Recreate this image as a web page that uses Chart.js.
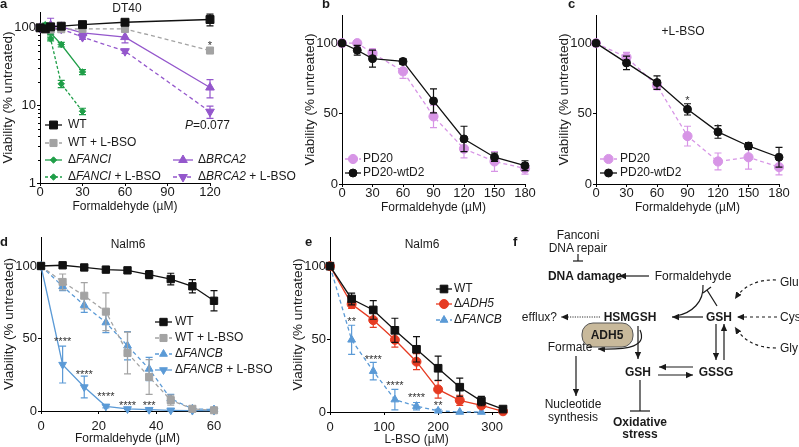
<!DOCTYPE html>
<html>
<head>
<meta charset="utf-8">
<script src="https://cdn.jsdelivr.net/npm/chart.js@4.4.1/dist/chart.umd.min.js"></script>
<style>
html, body { margin: 0; padding: 0; background: #fff; }
#wrap { position: relative; width: 799px; height: 447px; overflow: hidden; }
#wrap canvas, #wrap svg { position: absolute; left: 0; top: 0; }
</style>
</head>
<body>
<div id="wrap">
<canvas id="pa" width="799" height="447"></canvas>
<canvas id="pb" width="799" height="447"></canvas>
<canvas id="pc" width="799" height="447"></canvas>
<canvas id="pd" width="799" height="447"></canvas>
<canvas id="pe" width="799" height="447"></canvas>
<svg width="799" height="447" font-family="'Liberation Sans', Arial, sans-serif" font-size="12" fill="#1a1a1a">
  <defs>
    <marker id="ar" markerUnits="userSpaceOnUse" markerWidth="7" markerHeight="7" viewBox="0 0 10 10" refX="10" refY="5" orient="auto">
      <path d="M0,0.5 L10,5 L0,9.5 z" fill="#1a1a1a"/>
    </marker>
  </defs>
  <g font-weight="bold" font-size="13">
    <text x="0" y="8">a</text>
    <text x="322" y="8">b</text>
    <text x="568" y="8">c</text>
    <text x="0" y="246">d</text>
    <text x="305" y="246">e</text>
    <text x="513" y="246">f</text>
  </g>
  <!-- panel f: pathway diagram -->
  <g stroke="#1a1a1a" stroke-width="1.2" fill="none">
    <line x1="578" y1="254" x2="578" y2="261"/>
    <line x1="573" y1="261" x2="583" y2="261"/>
    <line x1="649" y1="276" x2="619" y2="276" marker-end="url(#ar)"/>
    <path d="M776,280 Q748,279 735,299" stroke-dasharray="3,3" marker-end="url(#ar)"/>
    <line x1="777" y1="317" x2="737" y2="317" stroke-dasharray="3,3" marker-end="url(#ar)"/>
    <path d="M776,348 Q748,348 735,327" stroke-dasharray="3,3" marker-end="url(#ar)"/>
    <line x1="703" y1="317" x2="672" y2="317" marker-end="url(#ar)"/>
    <path d="M703,285 C704,302 692,313 676,316"/>
    <line x1="717" y1="306" x2="707" y2="290"/>
    <line x1="703" y1="293" x2="711" y2="287"/>
    <line x1="600" y1="317" x2="561" y2="317" stroke-width="0.9" stroke-dasharray="1.2,1.2" marker-end="url(#ar)"/>
    <line x1="638" y1="326" x2="638" y2="359" marker-end="url(#ar)"/>
    <path d="M640,330 C647,346 630,350 598,349" marker-end="url(#ar)"/>
    <line x1="576" y1="356" x2="576" y2="396" marker-end="url(#ar)"/>
    <line x1="693" y1="367" x2="659" y2="367" marker-end="url(#ar)"/>
    <line x1="658" y1="375" x2="693" y2="375" marker-end="url(#ar)"/>
    <line x1="716" y1="324" x2="716" y2="360" marker-end="url(#ar)"/>
    <line x1="724" y1="360" x2="724" y2="324" marker-end="url(#ar)"/>
    <line x1="640" y1="380" x2="640" y2="411"/>
    <line x1="630" y1="411" x2="650" y2="411"/>
  </g>
  <rect x="582" y="323" width="51" height="24" rx="11" fill="#c8b99b" stroke="#555" stroke-width="1"/>
  <g text-anchor="middle">
    <text x="578" y="239">Fanconi</text>
    <text x="578" y="252">DNA repair</text>
    <text x="693" y="280">Formaldehyde</text>
    <text x="570" y="351">Formate</text>
    <text x="573" y="408">Nucleotide</text>
    <text x="573" y="421">synthesis</text>
    <g font-weight="bold">
      <text x="585" y="280">DNA damage</text>
      <text x="719" y="321">GSH</text>
      <text x="630" y="321">HSMGSH</text>
      <text x="607" y="339">ADH5</text>
      <text x="638" y="376">GSH</text>
      <text x="716" y="376">GSSG</text>
      <text x="640" y="426">Oxidative</text>
      <text x="640" y="438">stress</text>
    </g>
  </g>
  <text x="557" y="321" text-anchor="end">efflux?</text>
  <text x="780" y="286">Glu</text>
  <text x="780" y="321">Cys</text>
  <text x="780" y="352">Gly</text>
</svg>
</div>
<script>
// ---- a: DT40 (log scale) ----
const aDose = [0, 3.75, 7.5, 15, 30, 60, 120];
const aWT = [100, 97, 103, 105, 110, 118, 128];
const aWTErr = [4, 6, 8, 6, 6, 8, 22];
const aWTBso = [100, 96, 95, 96, 97, 97, 51];
const aWTBsoErr = [3, 4, 4, 4, 5, 6, 4];
const aFanci = [100, 110, 86, 61, 27, null, null];
const aFanciErr = [3, 5, 5, 4, 2, 0, 0];
const aFanciBso = [100, 99, 72, 19, 8.4, null, null];
const aFanciBsoErr = [3, 4, 4, 2, 0.8, 0, 0];
const aBrca2 = [100, 102, 108, 103, 86, 76, 17];
const aBrca2Err = [4, 5, 25, 10, 12, 12, 4.5];
const aBrca2Bso = [100, 100, 100, 97, 76, 50, 8.3];
const aBrca2BsoErr = [3, 4, 4, 6, 5, 3, 1.5];
const aTicksX = [0, 30, 60, 90, 120];
const aTicksY = [1, 10, 100];
const aMinorY = [2, 3, 4, 5, 6, 7, 8, 9, 20, 30, 40, 50, 60, 70, 80, 90];

// ---- b: PD20 vs PD20-wtD2 ----
const bDose = [0, 15, 30, 60, 90, 120, 150, 180];
const bPD20 = [100, 100, 93, 80, 48, 25, 16, 11];
const bPD20Err = [0, 1.5, 3, 5, 8, 6.5, 7, 4];
const bWtD2 = [100, 95, 89, 87, 59, 32, 19, 13];
const bWtD2Err = [0, 3.5, 6, 2, 8.5, 9, 3, 3.5];
const bTicksX = [0, 30, 60, 90, 120, 150, 180];
const bTicksY = [0, 50, 100];

// ---- c: +L-BSO ----
const cDose = [0, 30, 60, 90, 120, 150, 180];
const cPD20 = [100, 90, 70, 34, 16, 19, 12];
const cPD20Err = [0, 3.5, 3, 7, 6, 8.5, 5.5];
const cWtD2 = [100, 86, 72, 53, 37, 27, 19];
const cWtD2Err = [0, 4.8, 4.8, 4, 4.5, 2.4, 7];
const cStars = [[90, 61, '*'], [120, 41, '*']];

// ---- d: Nalm6, formaldehyde ----
const dDose = [0, 7.5, 15, 22.5, 30, 37.5, 45, 52.5, 60];
const dWT = [100, 100.5, 99, 97.5, 97, 94, 91, 86, 76];
const dWTErr = [0, 1.5, 1, 1, 1, 2.8, 4, 4.6, 7];
const dWTBso = [100, 89, 79.5, 68.5, 40, 23.5, 7.5, 1.5, 0.5];
const dWTBsoErr = [0, 5.5, 9, 13, 14.4, 12, 3.5, 1, 1];
const dFancb = [100, 86, 73, 61, 45, 29, 8.5, 1.5, 1];
const dFancbErr = [0, 3, 5, 7, 9.8, 8, 3, 1, 1];
const dFancbBso = [100, 32, 16.5, 3.2, 1.4, 0.9, 0.5, 0.3, 0.3];
const dFancbBsoErr = [0, 12.7, 7.5, 1, 0.5, 0.5, 0.5, 0, 0];
const dTicksX = [0, 20, 40, 60];
const dTicksY = [0, 50, 100];
const dStars = [[7.5, 50, '****'], [15, 27, '****'], [22.5, 11.7, '****'], [30, 5.7, '****'], [37.5, 5.4, '***']];

// ---- e: Nalm6, L-BSO ----
const eDose = [0, 40, 80, 120, 160, 200, 240, 280, 320];
const eWT = [100, 77.5, 70, 56, 43, 30, 17, 7.5, 2];
const eWTErr = [0, 4, 6.4, 8.3, 8.7, 8.3, 6.2, 3.2, 1];
const eAdh5 = [100, 74, 63, 49.5, 34.5, 15.5, 8, 4.5, 0.5];
const eAdh5Err = [0, 3, 5, 5, 5.5, 6, 3.5, 2, 1];
const eFancb = [100, 49.5, 28, 8.5, 4, 0.8, 0, 0, null];
const eFancbErr = [0, 10, 6, 7, 2.5, 1, 0, 0, 0];
const eTicksX = [0, 100, 200, 300];
const eTicksY = [0, 50, 100];
const eStars = [[40, 63.8, '**'], [80, 38, '****'], [120, 19.7, '****'], [160, 11.7, '****'], [200, 6, '**']];

const FONT = "'Liberation Sans', Arial, Helvetica, sans-serif";
const W = 799, H = 447, YW = 44;
const INK = '#1a1a1a';
const BLACK = '#111111', GRAY = '#a3a3a3', GREEN = '#1f9e48', PURPLE = '#9457cc';
const PINK = '#d795e6', BLUE = '#5b9ad6', RED = '#e63b22';

function series(xs, ys, errs, st) {
    const pts = [];
    xs.forEach((x, i) => {
        if (ys[i] !== null && ys[i] !== undefined) pts.push({ x: x, y: ys[i], e: errs[i] });
    });
    return {
        data: pts,
        borderColor: st.color,
        backgroundColor: st.color,
        borderWidth: 1.3,
        borderDash: st.dash || [],
        pointStyle: st.shape,
        pointRadius: st.r,
        pointRotation: st.rot || 0,
        pointBorderWidth: 1,
        pointBorderColor: st.color,
        pointBackgroundColor: st.color,
        tension: 0,
        clip: false
    };
}

function axis(c, dir, row) {
    return {
        type: c.type || 'linear',
        min: c.min,
        max: c.max,
        title: {
            display: true, text: c.title, color: INK,
            font: { family: FONT, size: dir === 'x' ? 12 : 13.5 },
            padding: dir === 'x' ? { top: 0, bottom: 0 } : { top: 4, bottom: 0 }
        },
        grid: { drawOnChartArea: false, drawTicks: true, tickLength: 3, tickColor: '#000', tickWidth: 1 },
        border: { color: '#000', width: 1 },
        ticks: {
            color: INK, font: { family: FONT, size: 13 },
            padding: dir === 'x' ? row.pad : 1,
            autoSkip: false, maxRotation: 0,
            callback: v => String(v)
        },
        afterBuildTicks: a => { a.ticks = c.ticks.map(v => ({ value: v })); },
        afterFit: s => {
            if (dir === 'x') s.height = row.xh; else s.width = YW;
            s.paddingLeft = 0; s.paddingRight = 0; s.paddingTop = 0; s.paddingBottom = 0;
        }
    };
}

const errorBars = {
    id: 'errorBars',
    beforeDatasetDraw(chart, args) {
        const ds = chart.data.datasets[args.index];
        const ys = chart.scales.y, ctx = chart.ctx;
        ctx.save();
        ctx.strokeStyle = ds.borderColor;
        ctx.lineWidth = 1.2;
        ctx.setLineDash([]);
        args.meta.data.forEach((pt, i) => {
            const d = ds.data[i];
            if (!d.e) return;
            const top = ys.getPixelForValue(d.y + d.e);
            const bot = ys.getPixelForValue(Math.max(d.y - d.e, ys.min));
            ctx.beginPath();
            ctx.moveTo(pt.x, top); ctx.lineTo(pt.x, bot);
            ctx.moveTo(pt.x - 3.5, top); ctx.lineTo(pt.x + 3.5, top);
            ctx.moveTo(pt.x - 3.5, bot); ctx.lineTo(pt.x + 3.5, bot);
            ctx.stroke();
        });
        ctx.restore();
    }
};

function richText(ctx, x, y, s, size, align) {
    const parts = s.split('_');
    const fonts = parts.map((p, i) => (i % 2 ? 'italic ' : '') + size + 'px ' + FONT);
    let w = 0;
    parts.forEach((p, i) => { ctx.font = fonts[i]; w += ctx.measureText(p).width; });
    let cx = align === 'center' ? x - w / 2 : x;
    ctx.textAlign = 'left';
    ctx.textBaseline = 'middle';
    parts.forEach((p, i) => { ctx.font = fonts[i]; ctx.fillText(p, cx, y); cx += ctx.measureText(p).width; });
}

function notesPlugin(n) {
    return {
        id: 'notes',
        afterDraw(chart) {
            const ctx = chart.ctx, xs = chart.scales.x, ys = chart.scales.y;
            ctx.save();
            ctx.fillStyle = INK;
            ctx.strokeStyle = '#000';
            ctx.lineWidth = 1;
            (n.minor || []).forEach(v => {
                const py = Math.round(ys.getPixelForValue(v)) + 0.5;
                ctx.beginPath(); ctx.moveTo(xs.left, py); ctx.lineTo(xs.left - 2, py); ctx.stroke();
            });
            (n.texts || []).forEach(t => richText(ctx, t.x, t.y, t.s, t.size || 12, t.align || 'center'));
            ctx.fillStyle = '#333';
            ctx.font = '11px ' + FONT;
            ctx.textAlign = 'center';
            ctx.textBaseline = 'middle';
            (n.stars || []).forEach(s => {
                ctx.fillText(s[2], xs.getPixelForValue(s[0]), ys.getPixelForValue(s[1]) + 3);
            });
            (n.legend || []).forEach(l => {
                const ds = chart.data.datasets[l.ds];
                ctx.strokeStyle = ds.borderColor;
                ctx.lineWidth = ds.borderWidth;
                ctx.setLineDash(ds.borderDash);
                ctx.beginPath(); ctx.moveTo(l.x, l.y); ctx.lineTo(l.x + l.len, l.y); ctx.stroke();
                ctx.setLineDash([]);
                ctx.fillStyle = ds.pointBackgroundColor;
                ctx.lineWidth = 1;
                Chart.helpers.drawPoint(ctx, {
                    pointStyle: ds.pointStyle, rotation: ds.pointRotation,
                    radius: ds.pointRadius, borderWidth: 1
                }, l.x + l.len / 2, l.y);
                ctx.fillStyle = INK;
                richText(ctx, l.x + l.len + l.gap, l.y, l.s, 12, 'left');
            });
            ctx.restore();
        }
    };
}

function makePanel(id, box, row, xCfg, yCfg, datasets, notes) {
    return new Chart(document.getElementById(id), {
        type: 'line',
        data: { datasets: datasets },
        options: {
            responsive: false,
            animation: false,
            events: [],
            layout: {
                autoPadding: false,
                padding: { left: box.l - YW, top: box.t, right: W - box.r, bottom: Math.max(0, H - box.b - row.xh) }
            },
            plugins: { legend: { display: false }, tooltip: { enabled: false } },
            scales: { x: axis(xCfg, 'x', row), y: axis(yCfg, 'y', row) }
        },
        plugins: [errorBars, notesPlugin(notes)]
    });
}

const TOP = { pad: -1, xh: 31 };
const BOTTOM = { pad: 4.5, xh: 35 };
const VIAB = 'Viability (% untreated)';
const FORM = 'Formaldehyde (µM)';

// a
makePanel('pa', { l: 40, t: 12, r: 210, b: 183 }, TOP,
    { min: 0, max: 120, ticks: aTicksX, title: FORM },
    { type: 'logarithmic', min: 1, max: 160, ticks: aTicksY, title: VIAB },
    [
        series(aDose, aWT, aWTErr, { color: BLACK, shape: 'rect', r: 5.6 }),
        series(aDose, aWTBso, aWTBsoErr, { color: GRAY, shape: 'rect', r: 5, dash: [4, 3] }),
        series(aDose, aFanci, aFanciErr, { color: GREEN, shape: 'rectRot', r: 3.2 }),
        series(aDose, aFanciBso, aFanciBsoErr, { color: GREEN, shape: 'rectRot', r: 3.2, dash: [3, 2] }),
        series(aDose, aBrca2, aBrca2Err, { color: PURPLE, shape: 'triangle', r: 5 }),
        series(aDose, aBrca2Bso, aBrca2BsoErr, { color: PURPLE, shape: 'triangle', r: 5, rot: 180, dash: [4, 3] })
    ],
    {
        minor: aMinorY,
        texts: [{ x: 127, y: 8.5, s: 'DT40' }, { x: 185, y: 126, s: '_P_=0.077', align: 'left' }],
        stars: [[120, 64, '*']],
        legend: [
            { x: 45, y: 125, len: 17, gap: 6, ds: 0, s: 'WT' },
            { x: 45, y: 143, len: 17, gap: 6, ds: 1, s: 'WT + L-BSO' },
            { x: 45, y: 160, len: 17, gap: 6, ds: 2, s: 'Δ_FANCI_' },
            { x: 45, y: 177, len: 17, gap: 6, ds: 3, s: 'Δ_FANCI_ + L-BSO' },
            { x: 173, y: 160, len: 20, gap: 5, ds: 4, s: 'Δ_BRCA2_' },
            { x: 173, y: 177, len: 20, gap: 5, ds: 5, s: 'Δ_BRCA2_ + L-BSO' }
        ]
    });

// b
makePanel('pb', { l: 342, t: 15, r: 525, b: 184 }, TOP,
    { min: 0, max: 180, ticks: bTicksX, title: FORM },
    { min: 0, max: 120, ticks: bTicksY, title: VIAB },
    [
        series(bDose, bWtD2, bWtD2Err, { color: BLACK, shape: 'circle', r: 4 }),
        series(bDose, bPD20, bPD20Err, { color: PINK, shape: 'circle', r: 4.6, dash: [4, 3] })
    ],
    {
        legend: [
            { x: 345, y: 159, len: 16, gap: 2, ds: 1, s: 'PD20' },
            { x: 345, y: 173, len: 16, gap: 2, ds: 0, s: 'PD20-wtD2' }
        ]
    });

// c
makePanel('pc', { l: 596, t: 15, r: 779, b: 184 }, TOP,
    { min: 0, max: 180, ticks: bTicksX, title: FORM },
    { min: 0, max: 120, ticks: bTicksY, title: VIAB },
    [
        series(cDose, cWtD2, cWtD2Err, { color: BLACK, shape: 'circle', r: 4 }),
        series(cDose, cPD20, cPD20Err, { color: PINK, shape: 'circle', r: 4.6, dash: [4, 3] })
    ],
    {
        texts: [{ x: 683, y: 32, s: '+L-BSO' }],
        stars: cStars,
        legend: [
            { x: 600, y: 159, len: 17, gap: 3, ds: 1, s: 'PD20' },
            { x: 600, y: 173, len: 17, gap: 3, ds: 0, s: 'PD20-wtD2' }
        ]
    });

// d
makePanel('pd', { l: 41, t: 237, r: 214, b: 411 }, BOTTOM,
    { min: 0, max: 60, ticks: dTicksX, title: FORM },
    { min: 0, max: 120, ticks: dTicksY, title: VIAB },
    [
        series(dDose, dWT, dWTErr, { color: BLACK, shape: 'rect', r: 5.2 }),
        series(dDose, dWTBso, dWTBsoErr, { color: GRAY, shape: 'rect', r: 5, dash: [4, 3] }),
        series(dDose, dFancb, dFancbErr, { color: BLUE, shape: 'triangle', r: 4.5, dash: [4, 3] }),
        series(dDose, dFancbBso, dFancbBsoErr, { color: BLUE, shape: 'triangle', r: 4.5, rot: 180 })
    ],
    {
        texts: [{ x: 128, y: 244.5, s: 'Nalm6' }],
        stars: dStars,
        legend: [
            { x: 155, y: 322, len: 17, gap: 3, ds: 0, s: 'WT' },
            { x: 155, y: 338, len: 17, gap: 3, ds: 1, s: 'WT + L-BSO' },
            { x: 155, y: 354, len: 17, gap: 3, ds: 2, s: 'Δ_FANCB_' },
            { x: 155, y: 370, len: 17, gap: 3, ds: 3, s: 'Δ_FANCB_ + L-BSO' }
        ]
    });

// e
makePanel('pe', { l: 330, t: 237, r: 503, b: 412 }, BOTTOM,
    { min: 0, max: 320, ticks: eTicksX, title: 'L-BSO (µM)' },
    { min: 0, max: 120, ticks: eTicksY, title: VIAB },
    [
        series(eDose, eWT, eWTErr, { color: BLACK, shape: 'rect', r: 5.4 }),
        series(eDose, eAdh5, eAdh5Err, { color: RED, shape: 'circle', r: 4.5 }),
        series(eDose, eFancb, eFancbErr, { color: BLUE, shape: 'triangle', r: 4.5, dash: [4, 3] })
    ],
    {
        texts: [{ x: 422, y: 244.5, s: 'Nalm6' }],
        stars: eStars,
        legend: [
            { x: 436, y: 289, len: 16, gap: 2, ds: 0, s: 'WT' },
            { x: 436, y: 304, len: 16, gap: 2, ds: 1, s: 'Δ_ADH5_' },
            { x: 436, y: 320, len: 16, gap: 2, ds: 2, s: 'Δ_FANCB_' }
        ]
    });
</script>
</body>
</html>
